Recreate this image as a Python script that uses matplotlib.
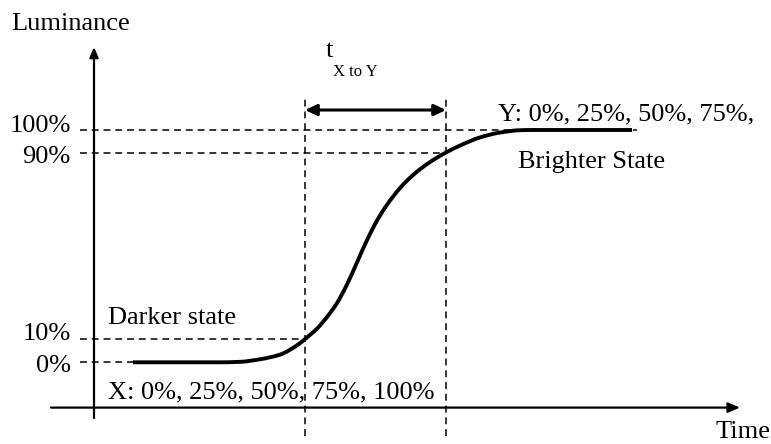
import matplotlib
matplotlib.use("Agg")
import matplotlib.pyplot as plt
from matplotlib.path import Path
from matplotlib.patches import PathPatch

plt.rcParams['font.family'] = ['Liberation Serif', 'DejaVu Serif']

# ---- data (time in arbitrary units, luminance in %) ----
time_pts = [39, 126, 146, 166, 186, 203, 211, 223, 233, 243, 253, 263, 273,
            283, 293, 306, 319, 336, 352, 366, 386, 406, 426, 439, 538]
lum_pts = [0, 0, 0.2, 1.3, 3.3, 7.3, 10, 14.5, 19.5, 25.5, 33.5, 43, 52.6,
           61.0, 67.8, 75.0, 80.6, 86.2, 90.3, 93.3, 96.8, 98.9, 99.9, 100, 100]

levels = [100, 90, 10, 0]
level_labels = ["100%", "90%", "10%", "0%"]
level_ends = [543, 352, 211, 39]      # where each guide line stops (time)
t_start, t_end = 211, 352             # 10% and 90% crossing times

W, H = 771, 444
fig = plt.figure(figsize=(W / 100, H / 100), dpi=100)
ax = fig.add_axes([0, 0, 1, 1])
ax.set_xlim(-94, 677)
ax.set_ylim(-35.17, 155.96)
ax.axis('off')

def ftext(px, py, s, **kw):
    fig.text(px / W, 1 - py / H, s, va='baseline', **kw)

FS = 19
dash = dict(color='black', lw=1.1, linestyle=(0, (4.5, 3.2)))

# guide lines
for lv, end in zip(levels, level_ends):
    ax.plot([-14, end], [lv, lv], **dash)
for tv in (t_start, t_end):
    ax.plot([tv, tv], [-31.6, 115], **dash)

# axes with arrows
ax.annotate('', xy=(646, -19.5), xytext=(-43, -19.5),
            arrowprops=dict(arrowstyle='-|>,head_length=0.7,head_width=0.3',
                            lw=1.6, color='black', shrinkA=0, shrinkB=0))
ax.annotate('', xy=(0, 135.7), xytext=(0, -24),
            arrowprops=dict(arrowstyle='-|>,head_length=0.6,head_width=0.26',
                            lw=1.6, color='black', shrinkA=0, shrinkB=0))

# response curve: monotone cubic (Fritsch-Carlson) drawn as Bezier path
def smooth_path(x, y):
    n = len(x)
    h = [x[i + 1] - x[i] for i in range(n - 1)]
    d = [(y[i + 1] - y[i]) / h[i] for i in range(n - 1)]
    m = [0.0] * n
    m[0], m[-1] = d[0], d[-1]
    for k in range(1, n - 1):
        if d[k - 1] * d[k] <= 0:
            m[k] = 0.0
        else:
            w1 = 2 * h[k] + h[k - 1]
            w2 = h[k] + 2 * h[k - 1]
            m[k] = (w1 + w2) / (w1 / d[k - 1] + w2 / d[k])
    verts = [(x[0], y[0])]
    codes = [Path.MOVETO]
    for i in range(n - 1):
        verts += [(x[i] + h[i] / 3, y[i] + m[i] * h[i] / 3),
                  (x[i + 1] - h[i] / 3, y[i + 1] - m[i + 1] * h[i] / 3),
                  (x[i + 1], y[i + 1])]
        codes += [Path.CURVE4] * 3
    return Path(verts, codes)

ax.add_patch(PathPatch(smooth_path(time_pts, lum_pts), facecolor='none',
                       edgecolor='black', lw=2.8, capstyle='butt'))

# transition time arrow
ax.annotate('', xy=(t_end, 108.6), xytext=(t_start, 108.6),
            arrowprops=dict(arrowstyle='<|-|>,head_length=0.7,head_width=0.33',
                            lw=2.2, color='black', shrinkA=0, shrinkB=0))

# level labels
for lab, base in zip(level_labels, [132, 163, 340, 371.7]):
    ftext(70.7, base, lab, ha='right', fontsize=FS)

ftext(11, 30.5, "Luminance", fontsize=FS)
ftext(326, 57, "t", fontsize=FS)
ftext(333, 75.5, "X to Y", fontsize=12)
ftext(498, 120, "Y: 0%, 25%, 50%, 75%,", fontsize=FS)
ftext(518, 168, "Brighter State", fontsize=FS)
ftext(108, 324, "Darker state", fontsize=FS)
ftext(108, 398, "X: 0%, 25%, 50%, 75%, 100%", fontsize=FS)
ftext(716, 438, "Time", fontsize=FS)

fig.savefig("out.png", dpi=100)
